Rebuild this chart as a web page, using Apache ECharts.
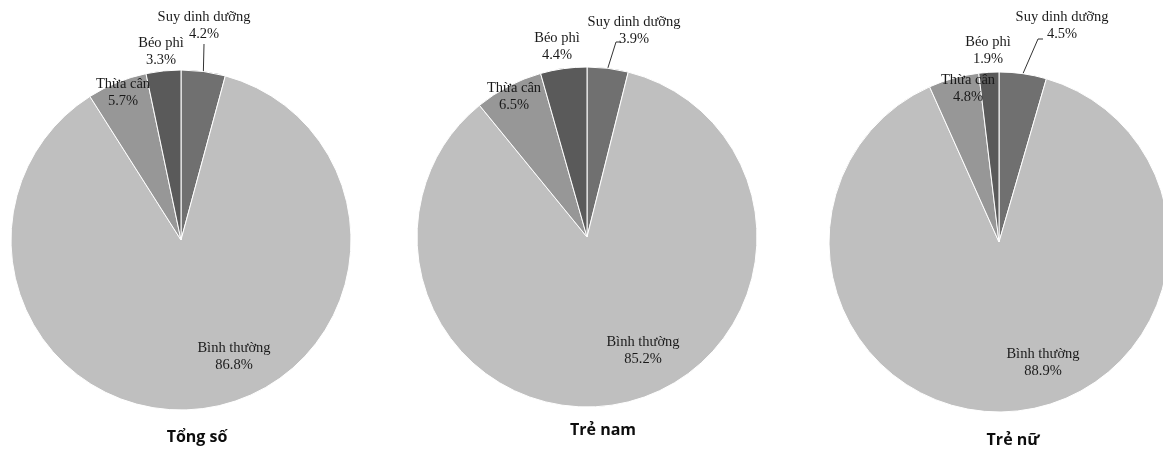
<!DOCTYPE html>
<html>
<head>
<meta charset="utf-8">
<script src="https://cdn.jsdelivr.net/npm/echarts@6/dist/echarts.min.js"></script>
<style>
html,body{margin:0;padding:0;background:#fff;}
#chart{width:1163px;height:449px;}
</style>
</head>
<body>
<div id="chart"></div>
<script>
// ---- data ----
var categories = ['Suy dinh dưỡng', 'Bình thường', 'Thừa cân', 'Béo phì'];
var tongSo = [4.2, 86.8, 5.7, 3.3];
var treNam = [3.9, 85.2, 6.5, 4.4];
var treNu = [4.5, 88.9, 4.8, 1.9];
var groupTitles = ['Tổng số', 'Trẻ nam', 'Trẻ nữ'];

// ---- styling / layout ----
var colors = ['#707070', '#bfbfbf', '#979797', '#5a5a5a'];
var centers = [[181, 240], [587, 237], [999, 242]];
var radius = 170;
var titlePos = [[192, 424], [598, 417], [1008, 427]];
// label centres per pie, per category
var labelPos = [
  [[204, 26], [234, 357], [123, 93], [161, 52]],
  [[634, 31], [643, 351], [514, 97], [557, 47]],
  [[1062, 26], [1043, 363], [968, 89], [988, 51]]
];
// extra leader-line bend points (after the anchor on the slice)
var leaderTail = [
  [[204, 44]],
  [[616, 42], [621, 42]],
  [[1038, 39], [1043, 39]]
];

var seriesData = [tongSo, treNam, treNu];

var chart = echarts.init(document.getElementById('chart'), null, {renderer: 'canvas'});

var series = seriesData.map(function (vals, si) {
  return {
    type: 'pie',
    center: centers[si],
    radius: radius,
    startAngle: 90,
    clockwise: true,
    avoidLabelOverlap: false,
    animation: false,
    silent: true,
    itemStyle: {borderColor: '#ffffff', borderWidth: 1},
    label: {
      show: true,
      position: 'outside',
      formatter: '{b}\n{c}%',
      fontFamily: 'Liberation Serif',
      fontSize: 14.5,
      lineHeight: 17,
      color: '#1a1a1a',
      align: 'center'
    },
    labelLine: {show: true, lineStyle: {color: '#333', width: 1}},
    labelLayout: function (params) {
      var p = labelPos[si][params.dataIndex];
      var res = {x: p[0], y: p[1], align: 'center', verticalAlign: 'middle'};
      if (params.dataIndex === 0 && params.labelLinePoints) {
        var start = params.labelLinePoints[0];
        res.labelLinePoints = [start].concat(leaderTail[si]);
      }
      return res;
    },
    data: categories.map(function (c, i) {
      var d = {name: c, value: vals[i], itemStyle: {color: colors[i]}};
      if (i !== 0) d.labelLine = {show: false};
      return d;
    })
  };
});

var titles = groupTitles.map(function (t, i) {
  return {
    text: t,
    left: titlePos[i][0],
    top: titlePos[i][1],
    textAlign: 'center',
    textStyle: {fontFamily: 'Open Sans', fontWeight: 'bold', fontSize: 16, color: '#0d0d0d'}
  };
});

chart.setOption({
  backgroundColor: '#ffffff',
  title: titles,
  series: series
});
</script>
</body>
</html>
